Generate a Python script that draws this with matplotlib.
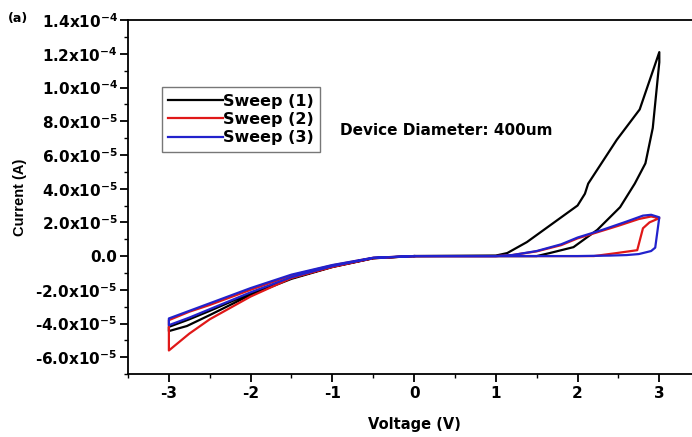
import matplotlib
matplotlib.use('Agg')
import matplotlib.pyplot as plt
from matplotlib.ticker import MultipleLocator, FuncFormatter

plt.rcParams['font.family'] = ['DejaVu Sans']
plt.rcParams['font.weight'] = 'bold'
plt.rcParams['mathtext.fontset'] = 'dejavusans'
plt.rcParams['mathtext.default'] = 'bf'

# Sweep (1): 0 -> 3 V (low branch), back 3 -> 0 (high branch), 0 -> -3 -> 0
v1 = [0, 1.0, 1.5, 1.66, 1.95, 2.24, 2.52, 2.70, 2.83, 2.92, 3.0, 3.0,
      2.76, 2.48, 2.13, 2.09, 2.0, 1.70, 1.38, 1.14, 1.0, 0,
      -0.5, -1.0, -1.5, -2.0, -2.5, -2.78, -3.0,
      -3.0, -2.75, -2.5, -2.0, -1.5, -1.0, -0.5, 0]
i1 = [0, 0, 0, 1.8e-6, 5.3e-6, 1.55e-5, 2.9e-5, 4.3e-5, 5.5e-5, 7.6e-5, 1.15e-4, 1.21e-4,
      8.7e-5, 6.9e-5, 4.3e-5, 3.7e-5, 3.0e-5, 1.95e-5, 8.3e-6, 1.8e-6, 3e-7, 0,
      -1.3e-6, -6.5e-6, -1.35e-5, -2.3e-5, -3.5e-5, -4.15e-5, -4.45e-5,
      -4.2e-5, -3.75e-5, -3.25e-5, -2.2e-5, -1.3e-5, -6.3e-6, -1.2e-6, 0]

# Sweep (2)
v2 = [0, 1.5, 2.2, 2.48, 2.73, 2.8, 2.88, 3.0,
      2.9, 2.75, 2.5, 2.3, 2.0, 1.8, 1.5, 1.2, 1.0, 0,
      -0.5, -1.0, -1.5, -2.0, -2.5, -2.75, -3.0,
      -3.0, -2.75, -2.5, -2.0, -1.5, -1.0, -0.5, 0]
i2 = [0, 0, 0, 1.8e-6, 3.5e-6, 1.65e-5, 2.0e-5, 2.25e-5,
      2.35e-5, 2.2e-5, 1.8e-5, 1.5e-5, 1.05e-5, 6.5e-6, 2.8e-6, 6e-7, 0, 0,
      -1.3e-6, -6.5e-6, -1.3e-5, -2.4e-5, -3.75e-5, -4.6e-5, -5.6e-5,
      -3.8e-5, -3.3e-5, -2.9e-5, -2.0e-5, -1.15e-5, -5.5e-6, -1.0e-6, 0]

# Sweep (3)
v3 = [0, 1.5, 2.0, 2.4, 2.6, 2.75, 2.9, 2.95, 3.0,
      2.9, 2.8, 2.6, 2.3, 2.0, 1.8, 1.5, 1.2, 1.0, 0,
      -0.5, -1.0, -1.5, -2.0, -2.5, -2.75, -3.0,
      -3.0, -2.75, -2.5, -2.0, -1.5, -1.0, -0.5, 0]
i3 = [0, 0, 0, 3e-7, 6e-7, 1.2e-6, 3e-6, 5e-6, 2.3e-5,
      2.45e-5, 2.4e-5, 2.05e-5, 1.55e-5, 1.1e-5, 7e-6, 3e-6, 6e-7, 0, 0,
      -1.1e-6, -6e-6, -1.25e-5, -2.15e-5, -3.15e-5, -3.65e-5, -4.1e-5,
      -3.7e-5, -3.25e-5, -2.8e-5, -1.9e-5, -1.1e-5, -5.3e-6, -1.0e-6, 0]

fig = plt.figure(figsize=(6.92, 4.37), dpi=100)
ax = fig.add_axes([0.185, 0.144, 0.815, 0.810])

ax.plot(v1, i1, color='black', lw=1.6, label='Sweep (1)')
ax.plot(v2, i2, color='#e01818', lw=1.6, label='Sweep (2)')
ax.plot(v3, i3, color='#2222cc', lw=1.6, label='Sweep (3)')

ax.set_xlim(-3.5, 3.40)
ax.set_ylim(-7e-5, 1.4e-4)
ax.spines['right'].set_visible(False)
for s in ['left', 'top', 'bottom']:
    ax.spines[s].set_linewidth(1.3)

ax.xaxis.set_major_locator(MultipleLocator(1))
ax.xaxis.set_minor_locator(MultipleLocator(0.5))
ax.yaxis.set_major_locator(MultipleLocator(2e-5))
ax.yaxis.set_minor_locator(MultipleLocator(1e-5))


def yfmt(val, pos):
    if abs(val) < 1e-12:
        return '0.0'
    exp = -4 if abs(val) >= 1e-4 - 1e-12 else -5
    mant = val / 10 ** exp
    return r'%.1fx10$^{%d}$' % (mant, exp)


ax.yaxis.set_major_formatter(FuncFormatter(yfmt))
ax.xaxis.set_major_formatter(FuncFormatter(lambda v, p: '%d' % round(v)))
ax.tick_params(which='both', direction='out', top=False, right=False)
ax.tick_params(which='major', length=6, width=1.3, labelsize=11)
ax.tick_params(axis='y', which='major', pad=1.5)
ax.tick_params(axis='x', which='major', pad=2.5)
ax.tick_params(which='minor', length=3, width=1.0)

ax.set_xlabel('Voltage (V)', fontsize=10.5, fontweight='bold', va='top')
ax.xaxis.set_label_coords(0.507, -0.12)
ax.set_ylabel('Current (A)', fontsize=10.5, fontweight='bold',
              family=['Liberation Sans', 'DejaVu Sans'], va='center')
ax.yaxis.set_label_coords(-0.191, 0.5)

fig.text(0.012, 0.957, '(a)', fontsize=9, fontweight='bold', va='center')
ax.text(-0.905, 7.45e-5, 'Device Diameter: 400um', fontsize=11, fontweight='bold',
        va='center')

leg = ax.legend(loc='upper left', bbox_to_anchor=(0.06, 0.81), frameon=True,
                fancybox=False, edgecolor='#555555', handlelength=3.4,
                handletextpad=0.0, borderpad=0.4, labelspacing=0.2,
                borderaxespad=0.0,
                prop={'size': 11.5, 'weight': 'bold'})
leg.get_frame().set_linewidth(1.0)

fig.savefig('out.png', dpi=100)
